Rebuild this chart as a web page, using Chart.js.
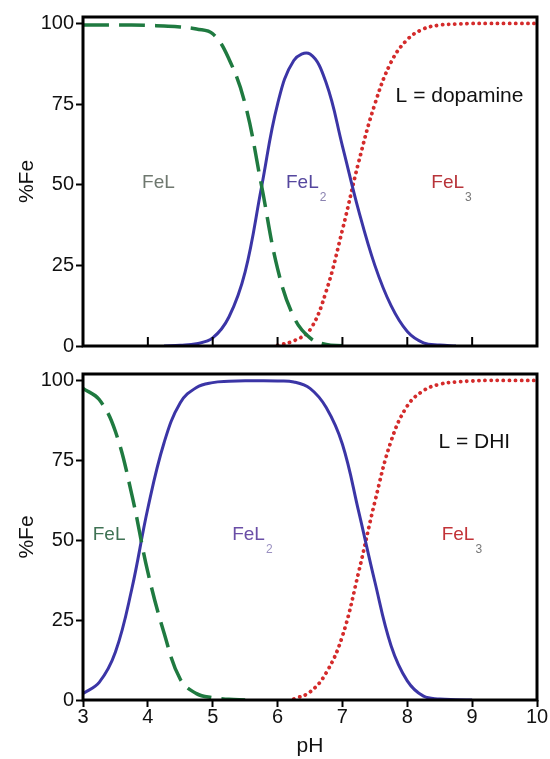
<!DOCTYPE html>
<html>
<head>
<meta charset="utf-8">
<script src="https://cdn.jsdelivr.net/npm/chart.js@4.4.0/dist/chart.umd.min.js"></script>
<style>
  html, body { margin: 0; padding: 0; background: #fff; }
  body { width: 550px; height: 759px; position: relative; overflow: hidden; }
  .panel { position: absolute; left: 0; width: 550px; }
  #top { top: 0; height: 360px; }
  #bottom { top: 360px; height: 399px; }
</style>
</head>
<body>
<div class="panel" id="top"><canvas id="topChart"></canvas></div>
<div class="panel" id="bottom"><canvas id="bottomChart"></canvas></div>
<script>
// pH grid shared by both panels
const ph = [3, 3.25, 3.5, 3.75, 4, 4.25, 4.5, 4.75, 5, 5.25, 5.5, 5.75, 6, 6.25, 6.5, 6.75,
  7, 7.25, 7.5, 7.75, 8, 8.25, 8.5, 8.75, 9, 9.25, 9.5, 9.75, 10];

// L = dopamine (top)
const felDopamine = [99.5, 99.5, 99.5, 99.5, 99.4, 99.2, 98.9, 98.3, 96.8, 89, 75, 50, 24, 9, 2.5, 0.5,
  0.1, null, null, null, null, null, null, null, null, null, null, null, null];
const fel2Dopamine = [null, null, null, null, null, 0, 0.2, 0.7, 2.5, 9, 23, 49, 75, 88.5, 90.5, 81.5,
  62, 42, 25, 12.5, 4.5, 1, 0.3, 0, null, null, null, null, null];
const fel3Dopamine = [null, null, null, null, null, null, null, null, null, null, null, null, 0.2, 1.6, 5, 17,
  36, 57, 75, 88, 95, 98.3, 99.5, 99.8, 100, 100, 100, 100, 100];

// L = DHI (bottom)
const felDHI = [97.5, 94, 84, 64.5, 40, 21, 6.5, 2, 0.7, 0.2, 0, null, null, null, null, null,
  null, null, null, null, null, null, null, null, null, null, null, null, null];
const fel2DHI = [2, 5.5, 15, 34.5, 60, 80.5, 93, 97.8, 99.3, 99.7, 99.9, 99.9, 99.8, 99.5, 97.5, 91.5,
  80, 59, 37, 17, 6, 1.2, 0.3, 0.1, 0, null, null, null, null];
const fel3DHI = [null, null, null, null, null, null, null, null, null, null, null, null, null, 0.3, 2.5, 8.5,
  20, 40, 62, 81, 92, 96.8, 98.8, 99.5, 99.8, 100, 100, 100, 100];

const xTicks = [3, 4, 5, 6, 7, 8, 9, 10];
const yTicks = [0, 25, 50, 75, 100];

const FONT = "'Liberation Sans', Arial, Helvetica, sans-serif";
Chart.defaults.font.family = FONT;

const BLUE = '#3b35a6';
const GREEN = '#1f7a40';
const RED = '#d42b2b';

const toPoints = (vals) => ph.map((x, i) => ({ x: x, y: vals[i] }));

const makeDatasets = (fel, fel2, fel3) => [
  {
    label: 'FeL', data: toPoints(fel), borderColor: GREEN, borderWidth: 3.5,
    borderDash: [26, 10], pointRadius: 0, tension: 0.4,
  },
  {
    label: 'FeL2', data: toPoints(fel2), borderColor: BLUE, borderWidth: 3,
    pointRadius: 0, tension: 0.4,
  },
  {
    label: 'FeL3', data: toPoints(fel3), borderColor: RED, borderWidth: 3.8,
    borderDash: [0.1, 6], borderCapStyle: 'round', pointRadius: 0, tension: 0.4,
  },
];

// frame box, inward ticks and text labels
const framePlugin = {
  id: 'frame',
  afterDatasetsDraw(chart, args, opts) {
    const { ctx, chartArea: a, scales } = chart;
    ctx.save();
    ctx.strokeStyle = '#000';
    ctx.lineWidth = 3;
    ctx.strokeRect(a.left, a.top, a.right - a.left, a.bottom - a.top);

    if (opts.innerTicks) {
      ctx.lineWidth = 2;
      xTicks.slice(1, -1).forEach((v) => {
        const px = scales.x.getPixelForValue(v);
        ctx.beginPath();
        ctx.moveTo(px, a.bottom);
        ctx.lineTo(px, a.bottom - 9);
        ctx.stroke();
      });
    }

    (opts.labels || []).forEach((l) => {
      const px = scales.x.getPixelForValue(l.x);
      const py = scales.y.getPixelForValue(l.y);
      ctx.font = (l.size || 19) + 'px ' + FONT;
      ctx.fillStyle = l.color;
      ctx.textAlign = 'left';
      ctx.textBaseline = 'alphabetic';
      ctx.fillText(l.text, px, py);
      if (l.sub) {
        const w = ctx.measureText(l.text).width;
        ctx.font = '12px ' + FONT;
        ctx.fillStyle = l.subColor || l.color;
        ctx.fillText(l.sub, px + w + 1, py + 13);
      }
    });
    ctx.restore();
  },
};

const yScale = {
  type: 'linear', min: 0, max: 102,
  afterBuildTicks: (s) => { s.ticks = yTicks.map((v) => ({ value: v })); },
  afterFit: (s) => { s.width = 71; },
  grid: { drawOnChartArea: false, tickLength: 7, tickWidth: 2, tickColor: '#000' },
  border: { display: false },
  ticks: { font: { size: 20 }, color: '#111', padding: 2 },
  title: { display: true, text: '%Fe', font: { size: 21 }, color: '#111', padding: { top: 3, bottom: 0 } },
};

new Chart(document.getElementById('topChart'), {
  type: 'line',
  data: { datasets: makeDatasets(felDopamine, fel2Dopamine, fel3Dopamine) },
  options: {
    responsive: true, maintainAspectRatio: false, animation: false,
    layout: { padding: { left: 12, right: 13, top: 17, bottom: 0 } },
    scales: {
      x: {
        type: 'linear', min: 3, max: 10,
        afterBuildTicks: (s) => { s.ticks = xTicks.map((v) => ({ value: v })); },
        afterFit: (s) => { s.height = 8; },
        grid: { display: false }, border: { display: false },
        ticks: { display: false },
      },
      y: yScale,
    },
    plugins: {
      legend: { display: false }, tooltip: { enabled: false },
      frame: {
        innerTicks: true,
        labels: [
          { text: 'FeL', x: 3.91, y: 49, color: '#6f786f' },
          { text: 'FeL', sub: '2', x: 6.13, y: 49, color: '#55479e', subColor: '#8a82b0' },
          { text: 'FeL', sub: '3', x: 8.37, y: 49, color: '#b8343a', subColor: '#777' },
          { text: 'L = dopamine', x: 7.82, y: 75.5, color: '#111', size: 21 },
        ],
      },
    },
  },
  plugins: [framePlugin],
});

new Chart(document.getElementById('bottomChart'), {
  type: 'line',
  data: { datasets: makeDatasets(felDHI, fel2DHI, fel3DHI) },
  options: {
    responsive: true, maintainAspectRatio: false, animation: false,
    layout: { padding: { left: 12, right: 13, top: 5, bottom: 0 } },
    scales: {
      x: {
        type: 'linear', min: 3, max: 10,
        afterBuildTicks: (s) => { s.ticks = xTicks.map((v) => ({ value: v })); },
        afterFit: (s) => { s.height = 59; },
        grid: { drawOnChartArea: false, tickLength: 7, tickWidth: 2, tickColor: '#000' },
        border: { display: false },
        ticks: { font: { size: 20 }, color: '#111', padding: -2, maxRotation: 0 },
        title: { display: true, text: 'pH', font: { size: 21 }, color: '#111', padding: { top: 2, bottom: 0 } },
      },
      y: yScale,
    },
    plugins: {
      legend: { display: false }, tooltip: { enabled: false },
      frame: {
        labels: [
          { text: 'FeL', x: 3.15, y: 50, color: '#3f7254' },
          { text: 'FeL', sub: '2', x: 5.3, y: 50, color: '#6a4ea6', subColor: '#9a90c0' },
          { text: 'FeL', sub: '3', x: 8.53, y: 50, color: '#c23338', subColor: '#777' },
          { text: 'L = DHI', x: 8.48, y: 79, color: '#111', size: 21 },
        ],
      },
    },
  },
  plugins: [framePlugin],
});
</script>
</body>
</html>
